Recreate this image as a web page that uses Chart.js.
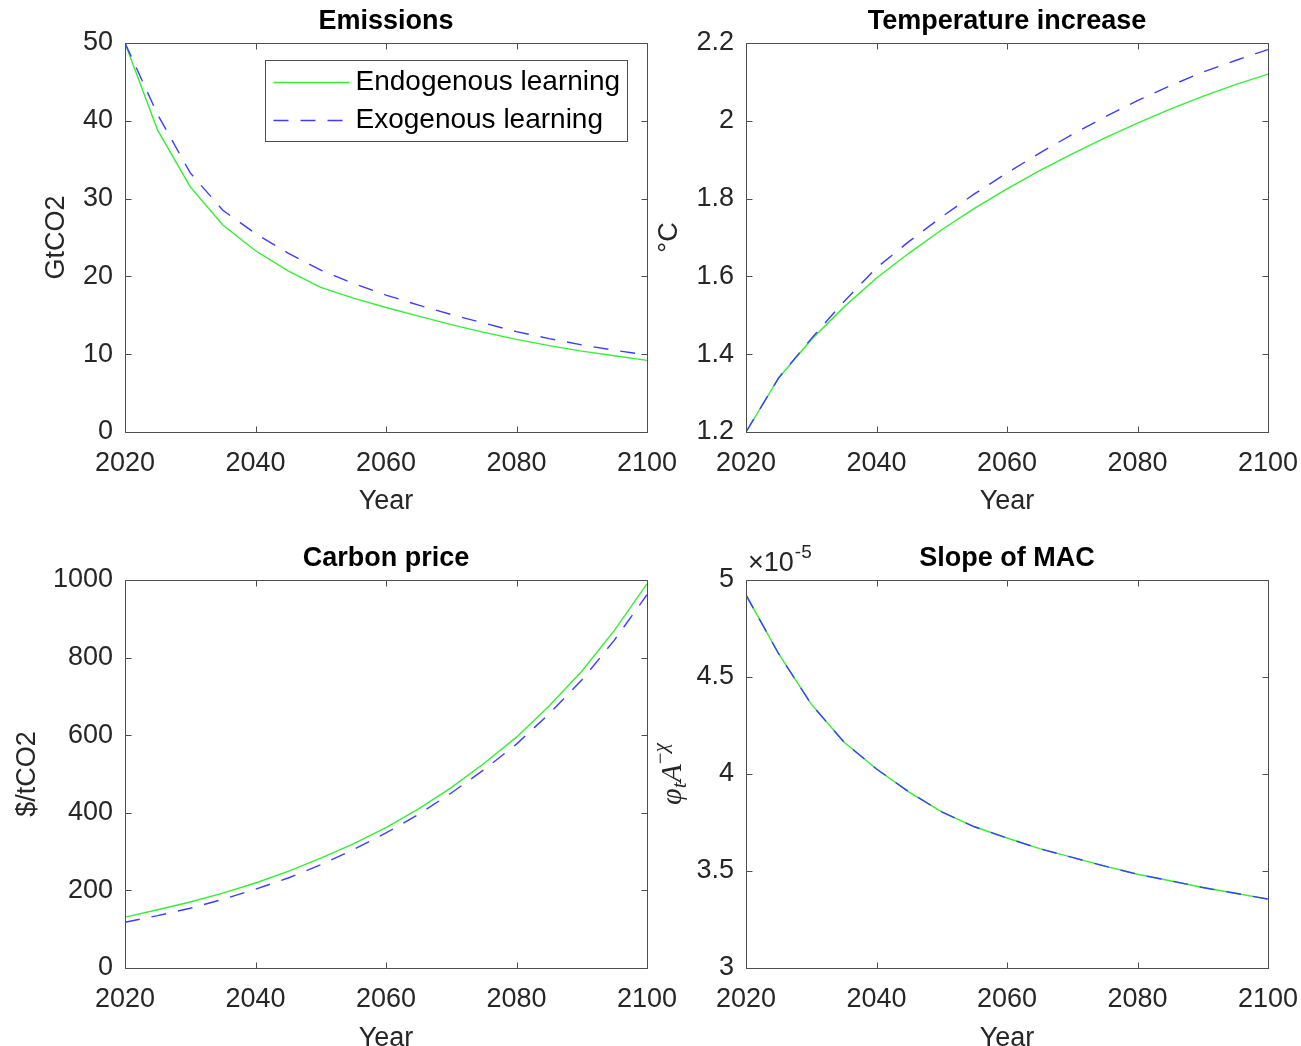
<!DOCTYPE html>
<html lang="en">
<head>
<meta charset="UTF-8">
<title>Endogenous vs exogenous learning</title>
<script src="https://cdn.jsdelivr.net/npm/chart.js@4.4.1/dist/chart.umd.min.js"></script>
<style>
  html, body { margin: 0; padding: 0; background: #fff; overflow: hidden; }
  .page { position: relative; width: 1301px; height: 1046px; overflow: hidden; }
  .page canvas { position: absolute; }
</style>
</head>
<body>
<div class="page">
  <canvas id="emissions" width="700" height="540" style="left:0;top:0"></canvas>
  <canvas id="temperature" width="651" height="540" style="left:650px;top:0"></canvas>
  <canvas id="price" width="700" height="540" style="left:0;top:523px"></canvas>
  <canvas id="mac" width="651" height="540" style="left:650px;top:523px"></canvas>
</div>
<script>
// data, one point every 5 years
var years = [2020, 2025, 2030, 2035, 2040, 2045, 2050, 2055, 2060, 2065, 2070, 2075, 2080, 2085, 2090, 2095, 2100];
var seriesNames = ['Endogenous learning', 'Exogenous learning'];

var emisEndo = [50, 38.8, 31.5, 26.6, 23.3, 20.7, 18.6, 17.2, 16.0, 14.9, 13.8, 12.8, 11.9, 11.1, 10.4, 9.8, 9.2];
var emisExo  = [50, 40.8, 33.3, 28.5, 25.5, 23.0, 20.8, 19.1, 17.6, 16.3, 15.1, 14.0, 12.9, 12.0, 11.2, 10.5, 9.9];

var tempEndo = [1.2, 1.339, 1.437, 1.521, 1.596, 1.66, 1.72, 1.775, 1.825, 1.872, 1.915, 1.956, 1.994, 2.03, 2.063, 2.093, 2.12];
var tempExo  = [1.2, 1.339, 1.44, 1.535, 1.622, 1.69, 1.753, 1.812, 1.866, 1.917, 1.965, 2.01, 2.052, 2.09, 2.125, 2.155, 2.183];

var priceEndo = [131, 150, 170, 193, 219, 249, 283, 320, 362, 410, 465, 527, 595, 675, 765, 870, 990];
var priceExo  = [118, 135, 154, 177, 203, 232, 266, 305, 348, 396, 451, 511, 577, 655, 742, 845, 962];

// slope of MAC, in units of 1e-5
var macEndo = [4.923, 4.62, 4.36, 4.165, 4.026, 3.907, 3.805, 3.728, 3.67, 3.615, 3.57, 3.525, 3.483, 3.45, 3.415, 3.385, 3.355];
var macExo  = [4.923, 4.62, 4.36, 4.165, 4.026, 3.907, 3.805, 3.728, 3.67, 3.615, 3.57, 3.525, 3.483, 3.45, 3.415, 3.385, 3.355];

var GREEN = '#33f033';
var BLUE = '#3c3cff';
var TEXT = '#262626';
var AXIS = '#4d4d4d';
var SANS = "'Liberation Sans', Arial, Helvetica, sans-serif";

Chart.defaults.font.family = SANS;
Chart.defaults.font.size = 27;
Chart.defaults.color = TEXT;

// box round the plot, inward ticks on all four sides, and the bold title
var matlabBox = {
    id: 'matlabBox',
    afterDraw: function (chart, args, opts) {
        var ctx = chart.ctx, a = chart.chartArea;
        var xs = chart.scales.x, ys = chart.scales.y;
        var tl = 6;
        var L = Math.round(a.left) + 0.5, R = Math.round(a.right) + 0.5;
        var T = Math.round(a.top) + 0.5, B = Math.round(a.bottom) + 0.5;
        ctx.save();
        ctx.strokeStyle = AXIS;
        ctx.lineWidth = 1;
        ctx.beginPath();
        ctx.rect(L, T, R - L, B - T);
        xs.ticks.forEach(function (t) {
            var px = Math.round(xs.getPixelForValue(t.value)) + 0.5;
            ctx.moveTo(px, B); ctx.lineTo(px, B - tl);
            ctx.moveTo(px, T); ctx.lineTo(px, T + tl);
        });
        ys.ticks.forEach(function (t) {
            var py = Math.round(ys.getPixelForValue(t.value)) + 0.5;
            ctx.moveTo(L, py); ctx.lineTo(L + tl, py);
            ctx.moveTo(R, py); ctx.lineTo(R - tl, py);
        });
        ctx.stroke();
        ctx.fillStyle = '#000';
        ctx.font = 'bold 27px ' + SANS;
        ctx.textAlign = 'center';
        ctx.textBaseline = 'middle';
        ctx.fillText(opts.title, (a.left + a.right) / 2, a.top - 21);
        ctx.restore();
    }
};

// legend in a framed box at the top right of the plot
var boxLegend = {
    id: 'boxLegend',
    afterDraw: function (chart, args, opts) {
        if (!opts.show) return;
        var ctx = chart.ctx, a = chart.chartArea;
        var sets = chart.data.datasets;
        ctx.save();
        ctx.font = '28px ' + SANS;
        var tw = 0;
        sets.forEach(function (d) { tw = Math.max(tw, ctx.measureText(d.label).width); });
        var right = Math.round(a.right - 20) + 0.5;
        var top = Math.round(a.top + 17) + 0.5;
        var w = 8 + 76 + 6 + tw + 8;
        var h = 81;
        var left = Math.round(right - w) + 0.5;
        ctx.fillStyle = '#fff';
        ctx.fillRect(left, top, w, h);
        ctx.strokeStyle = AXIS;
        ctx.lineWidth = 1;
        ctx.strokeRect(left, top, right - left, h);
        sets.forEach(function (d, i) {
            var y = top + 22 + i * 38;
            ctx.strokeStyle = d.borderColor;
            ctx.lineWidth = d.borderWidth;
            ctx.setLineDash(d.borderDash || []);
            ctx.beginPath();
            ctx.moveTo(left + 8, y);
            ctx.lineTo(left + 84, y);
            ctx.stroke();
            ctx.setLineDash([]);
            ctx.fillStyle = '#000';
            ctx.textAlign = 'left';
            ctx.textBaseline = 'middle';
            ctx.fillText(d.label, left + 90, y);
        });
        ctx.restore();
    }
};

// y label with sub/superscripts and the x10^-5 exponent note
var mathLabel = {
    id: 'mathLabel',
    afterDraw: function (chart, args, opts) {
        if (!opts.show) return;
        var ctx = chart.ctx, a = chart.chartArea;
        var serif = "'Liberation Serif', 'DejaVu Serif', serif";
        var parts = [
            { t: 'φ', f: 'italic 30px ' + serif, dy: 0 },
            { t: 't', f: 'italic 21px ' + serif, dy: 7 },
            { t: 'A', f: 'italic 30px ' + serif, dy: 0 },
            { t: '−', f: '21px ' + serif, dy: -12 },
            { t: 'χ', f: 'italic 21px ' + serif, dy: -12 }
        ];
        ctx.save();
        ctx.fillStyle = TEXT;
        ctx.textBaseline = 'middle';
        ctx.textAlign = 'left';
        var total = 0;
        parts.forEach(function (p) { ctx.font = p.f; p.w = ctx.measureText(p.t).width; total += p.w; });
        ctx.translate(23, (a.top + a.bottom) / 2);
        ctx.rotate(-Math.PI / 2);
        var x = -total / 2;
        parts.forEach(function (p) {
            ctx.font = p.f;
            ctx.fillText(p.t, x, p.dy);
            x += p.w;
        });
        ctx.restore();

        ctx.save();
        ctx.fillStyle = TEXT;
        ctx.textBaseline = 'middle';
        ctx.textAlign = 'left';
        ctx.font = '27px ' + SANS;
        var bx = a.left + 2, by = a.top - 16;
        ctx.fillText('×10', bx, by);
        var w10 = ctx.measureText('×10').width;
        ctx.font = '19px ' + SANS;
        ctx.fillText('-5', bx + w10 + 1, by - 11);
        ctx.restore();
    }
};

function fmt(v) {
    return String(parseFloat(Number(v).toFixed(3)));
}

function points(vals) {
    return years.map(function (y, i) { return { x: y, y: vals[i] }; });
}

function makeChart(id, title, endo, exo, yMin, yMax, yStep, yLabel, lay, extra) {
    extra = extra || {};
    return new Chart(document.getElementById(id), {
        type: 'line',
        data: {
            datasets: [
                {
                    label: seriesNames[0],
                    data: points(endo),
                    borderColor: GREEN,
                    borderWidth: 1.4,
                    pointRadius: 0,
                    tension: 0,
                    order: 1
                },
                {
                    label: seriesNames[1],
                    data: points(exo),
                    borderColor: BLUE,
                    borderWidth: 1.4,
                    borderDash: [15, 12],
                    pointRadius: 0,
                    tension: 0,
                    order: 0
                }
            ]
        },
        options: {
            responsive: false,
            animation: false,
            devicePixelRatio: 1,
            layout: { padding: { left: 0, top: lay.top, right: lay.right, bottom: 0 } },
            scales: {
                x: {
                    type: 'linear',
                    min: 2020,
                    max: 2100,
                    grid: { display: false },
                    border: { display: false },
                    ticks: { stepSize: 20, padding: 7, color: TEXT, callback: function (v) { return String(v); } },
                    title: { display: true, text: 'Year', color: TEXT, padding: { top: 0, bottom: lay.xTitlePad } },
                    afterFit: function (s) {
                        s.height = lay.xHeight;
                        s.paddingLeft = 0;
                        s.paddingRight = 0;
                    }
                },
                y: {
                    min: yMin,
                    max: yMax,
                    grid: { display: false },
                    border: { display: false },
                    ticks: { stepSize: yStep, padding: 4, color: TEXT, callback: fmt },
                    title: { display: !!yLabel, text: yLabel, color: TEXT, padding: { top: lay.yTitlePad, bottom: 0 } },
                    afterFit: function (s) {
                        s.width = lay.yWidth;
                        s.paddingTop = 0;
                        s.paddingBottom = 0;
                    }
                }
            },
            plugins: {
                legend: { display: false },
                tooltip: { enabled: false },
                matlabBox: { title: title },
                boxLegend: { show: !!extra.legend },
                mathLabel: { show: !!extra.math }
            }
        },
        plugins: [matlabBox, boxLegend, mathLabel]
    });
}

makeChart('emissions', 'Emissions', emisEndo, emisExo, 0, 50, 10, 'GtCO2',
    { top: 43, right: 53, xHeight: 108, xTitlePad: 21.8, yWidth: 125, yTitlePad: 40.8 }, { legend: true });

makeChart('temperature', 'Temperature increase', tempEndo, tempExo, 1.2, 2.2, 0.2, '°C',
    { top: 43, right: 33, xHeight: 108, xTitlePad: 21.8, yWidth: 96, yTitlePad: 3.8 });

makeChart('price', 'Carbon price', priceEndo, priceExo, 0, 1000, 200, '$/tCO2',
    { top: 57, right: 53, xHeight: 95, xTitlePad: 7.8, yWidth: 125, yTitlePad: 11.8 });

makeChart('mac', 'Slope of MAC', macEndo, macExo, 3, 5, 0.5, '',
    { top: 57, right: 33, xHeight: 95, xTitlePad: 7.8, yWidth: 96, yTitlePad: 0 }, { math: true });
</script>
</body>
</html>
